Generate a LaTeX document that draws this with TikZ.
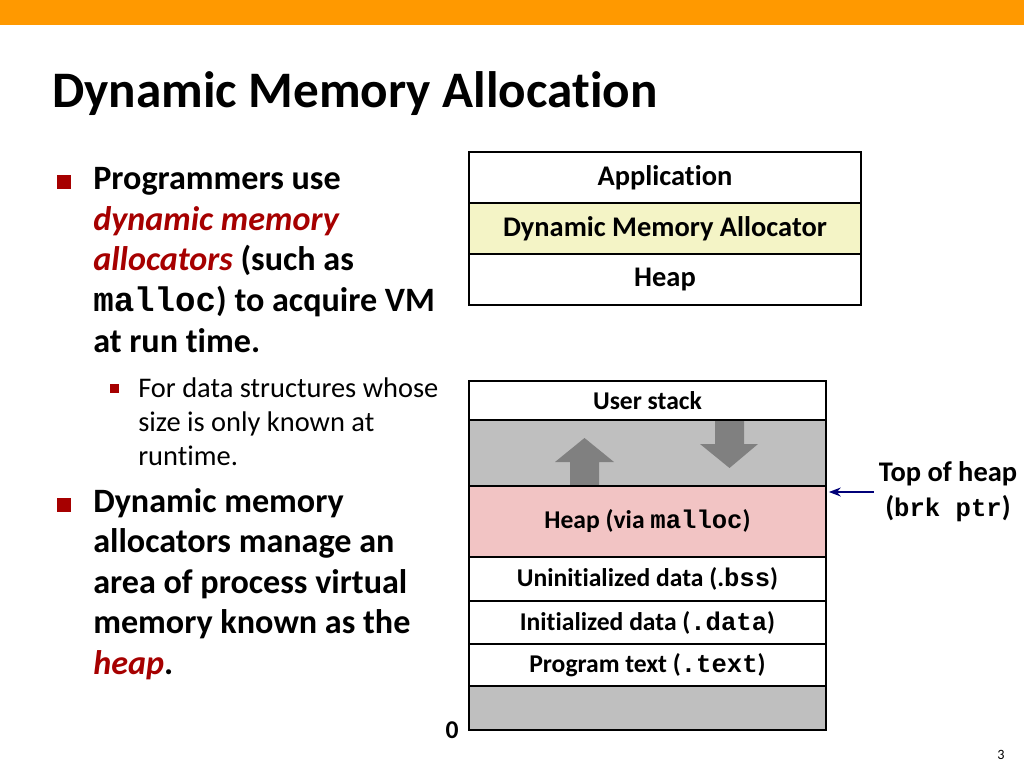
\documentclass[tikz,border=0pt]{standalone}
\usepackage{fontspec}
\setmainfont{Carlito}[Ligatures=NoCommon]
\setmonofont{Liberation Mono}
\usetikzlibrary{positioning,arrows.meta}
\definecolor{barorange}{RGB}{255,153,0}
\definecolor{cmured}{RGB}{166,0,0}
\definecolor{allocyellow}{RGB}{244,244,198}
\definecolor{heappink}{RGB}{242,196,196}
\definecolor{freegray}{RGB}{191,191,191}
\definecolor{growgray}{RGB}{128,128,128}
\definecolor{ptrnavy}{RGB}{0,0,120}
\begin{document}
\begin{tikzpicture}[x=0.703125pt,y=-0.703125pt,>=Stealth,
    cell/.style={rectangle,draw,line width=1.6pt,outer sep=0pt,inner sep=0pt,align=center},
    topcell/.style={cell,minimum width=275.63pt,minimum height=35.86pt,font=\bfseries\fontsize{20}{24}\selectfont},
    memcell/.style={cell,minimum width=251.02pt,font=\bfseries\fontsize{18}{21.6}\selectfont},
    bodytxt/.style={anchor=base west,inner sep=0pt,font=\bfseries\fontsize{24}{28.8}\selectfont},
    subtxt/.style={anchor=base west,inner sep=0pt,font=\fontsize{20}{24}\selectfont}]
\useasboundingbox (0,0) rectangle (1024,768);
\fill[barorange] (0,0) rectangle (1024,25);
\node[anchor=base west,inner sep=0pt,font=\bfseries\fontsize{36}{43.2}\selectfont] (title) at (52,108) {Dynamic Memory Allocation};
% bullet text
\fill[cmured] (57,175) rectangle (71,189);
\node[bodytxt] (b1a) at (93,190) {Programmers use};
\node[bodytxt] (b1b) at (93,230.5) {\textcolor{cmured}{\itshape dynamic memory}};
\node[bodytxt] (b1c) at (93,271) {\textcolor{cmured}{\itshape allocators} (such as};
\node[bodytxt] (b1d) at (93,311.5) {\texttt{malloc}) to acquire VM};
\node[bodytxt] (b1e) at (93,352) {at run time.};
\fill[cmured] (110,384) rectangle (119,393);
\node[subtxt] (s1a) at (138,397) {For data structures whose};
\node[subtxt] (s1b) at (138,431) {size is only known at};
\node[subtxt] (s1c) at (138,465) {runtime.};
\fill[cmured] (57,498) rectangle (71,512);
\node[bodytxt] (b2a) at (93,512) {Dynamic memory};
\node[bodytxt] (b2b) at (93,552.5) {allocators manage an};
\node[bodytxt] (b2c) at (93,593) {area of process virtual};
\node[bodytxt] (b2d) at (93,633.5) {memory known as the};
\node[bodytxt] (b2e) at (93,674) {\textcolor{cmured}{\itshape heap}.};
% software layers
\node[topcell] (app) at (665,177.5) {Application};
\node[topcell,fill=allocyellow,below=0pt of app] (alloc) {Dynamic Memory Allocator};
\node[topcell,below=0pt of alloc] (heaptop) {Heap};
% process memory image
\node[memcell,minimum height=27.42pt] (ustack) at (647.5,400.5) {User stack};
\node[memcell,fill=freegray,minimum height=46.41pt,below=0pt of ustack] (free) {};
\node[memcell,fill=heappink,minimum height=49.92pt,below=0pt of free] (heap) {Heap (via \texttt{malloc})};
\node[memcell,minimum height=30.94pt,below=0pt of heap] (bss) {Uninitialized data (.\texttt{bss})};
\node[memcell,minimum height=30.23pt,below=0pt of bss] (data) {Initialized data (\texttt{.data})};
\node[memcell,minimum height=29.53pt,below=0pt of data] (text) {Program text (\texttt{.text})};
\node[memcell,fill=freegray,minimum height=30.94pt,below=0pt of text] (unused) {};
\fill[growgray] (570,484.8) -- (570,462) -- (555,462) -- (584.5,438) -- (614,462) -- (599,462) -- (599,484.8) -- cycle;
\fill[growgray] (715,421.2) -- (715,444) -- (700,444) -- (729.5,468) -- (758,444) -- (744,444) -- (744,421.2) -- cycle;
\node[inner sep=0pt,anchor=base,font=\bfseries\fontsize{18}{21.6}\selectfont] (zero) at (452,738) {0};
\node[align=center,font=\bfseries\fontsize{20}{24.6}\selectfont] (toh) at (948,492) {Top of heap\\(\texttt{\fontsize{18}{24.6}\selectfont brk ptr})};
\draw[->,ptrnavy,line width=1.2pt] (toh.west) -- ([xshift=2pt]toh.west -| heap.east);
\node[inner sep=0pt,anchor=base,font=\fontsize{10}{12}\selectfont] (pagenum) at (1001,759) {3};
\end{tikzpicture}
\end{document}
